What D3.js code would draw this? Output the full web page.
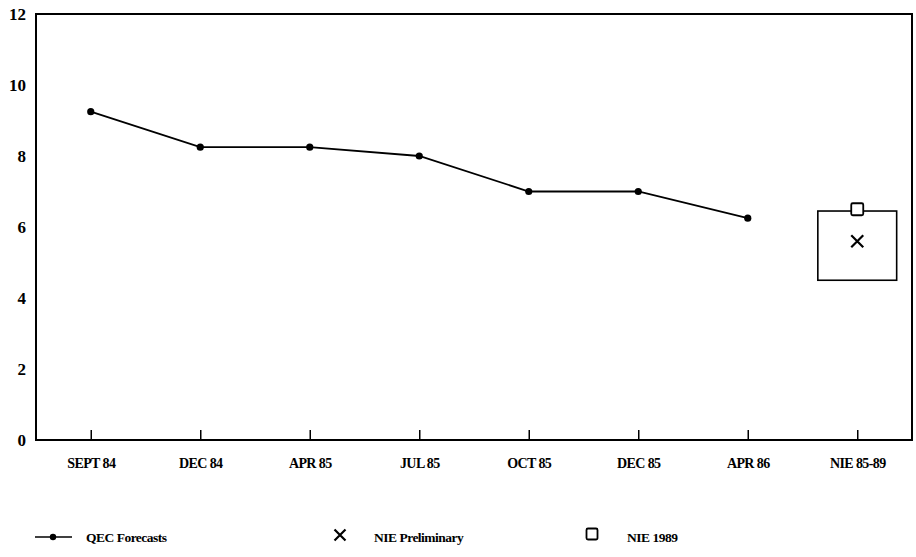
<!DOCTYPE html>
<html>
<head>
<meta charset="utf-8">
<script src="https://cdn.jsdelivr.net/npm/d3@7"></script>
<style>
  body { margin: 0; background: #fff; }
  svg { display: block; }
  text { font-family: "Liberation Serif", "Times New Roman", serif; font-weight: bold; fill: #000; }
</style>
</head>
<body>
<svg class="chart" width="916" height="557"></svg>
<script>
// periods on the x axis
var periods = ["SEPT 84", "DEC 84", "APR 85", "JUL 85", "OCT 85", "DEC 85", "APR 86", "NIE 85-89"];
// QEC forecasts (first seven periods)
var qecPeriods = ["SEPT 84", "DEC 84", "APR 85", "JUL 85", "OCT 85", "DEC 85", "APR 86"];
var qecValues = [9.25, 8.25, 8.25, 8.0, 7.0, 7.0, 6.25];
// NIE estimates
var niePeriod = "NIE 85-89";
var niePreliminary = 5.6;
var nie1989 = 6.5;
var nieRange = [4.5, 6.45];
var yTicks = [0, 2, 4, 6, 8, 10, 12];

var margin = {top: 14, left: 36, right: 4, bottom: 117};
var width = 916 - margin.left - margin.right,
	height = 557 - margin.top - margin.bottom;

var svg = d3.select(".chart");
var g = svg.append("g")
	.attr("transform", "translate(" + margin.left + "," + margin.top + ")");

var x = d3.scalePoint()
	.domain(periods)
	.range([0, width])
	.padding(0.5);

var y = d3.scaleLinear()
	.domain([0, 12])
	.range([height, 0]);

// frame
g.append("rect")
	.attr("width", width)
	.attr("height", height)
	.style("fill", "none")
	.style("stroke", "#000")
	.style("stroke-width", 2);

// y axis labels (no tick marks)
var yAxis = d3.axisLeft(y).tickValues(yTicks).tickSize(0).tickPadding(10);
var yg = g.append("g").call(yAxis);
yg.select(".domain").remove();
yg.selectAll("text").style("font-size", "17px").attr("font-family", null);

// x axis with short upward ticks
var xAxis = d3.axisBottom(x).tickSize(-10).tickPadding(18);
var xg = g.append("g")
	.attr("transform", "translate(0," + height + ")")
	.call(xAxis);
xg.select(".domain").remove();
xg.selectAll(".tick line").style("stroke", "#000").style("stroke-width", 1.5);
xg.selectAll("text")
	.style("font-size", "14px")
	.style("letter-spacing", "-0.6px")
	.attr("font-family", null);

// QEC line
var qec = qecPeriods.map(function(p, i) { return {period: p, value: qecValues[i]}; });
var line = d3.line()
	.x(function(d) { return x(d.period); })
	.y(function(d) { return y(d.value); });

g.append("path")
	.datum(qec)
	.attr("d", line)
	.style("fill", "none")
	.style("stroke", "#000")
	.style("stroke-width", 1.8);

g.selectAll("circle.qec")
	.data(qec)
	.enter().append("circle")
	.attr("class", "qec")
	.attr("cx", function(d) { return x(d.period); })
	.attr("cy", function(d) { return y(d.value); })
	.attr("r", 3.6)
	.style("fill", "#000");

// NIE range box
var boxW = x.step() * 0.72;
g.append("rect")
	.attr("x", x(niePeriod) - boxW / 2)
	.attr("y", y(nieRange[1]))
	.attr("width", boxW)
	.attr("height", y(nieRange[0]) - y(nieRange[1]))
	.style("fill", "none")
	.style("stroke", "#000")
	.style("stroke-width", 1.6);

function cross(sel, cx, cy, s) {
	sel.append("path")
		.attr("d", "M" + (cx - s) + "," + (cy - s) + "L" + (cx + s) + "," + (cy + s) +
			"M" + (cx - s) + "," + (cy + s) + "L" + (cx + s) + "," + (cy - s))
		.style("stroke", "#000")
		.style("stroke-width", 2.2);
}
function square(sel, cx, cy, s) {
	sel.append("rect")
		.attr("x", cx - s).attr("y", cy - s)
		.attr("width", 2 * s).attr("height", 2 * s)
		.attr("rx", 1.5)
		.style("fill", "#fff")
		.style("stroke", "#000")
		.style("stroke-width", 1.8);
}

cross(g, x(niePeriod), y(niePreliminary), 6);
square(g, x(niePeriod), y(nie1989), 6);

// legend
var leg = svg.append("g").attr("transform", "translate(0,537)");
leg.append("line")
	.attr("x1", 35).attr("x2", 72).attr("y1", 0).attr("y2", 0)
	.style("stroke", "#000").style("stroke-width", 1.6);
leg.append("circle").attr("cx", 53).attr("cy", 0).attr("r", 3.2).style("fill", "#000");
leg.append("text").attr("x", 86).attr("y", 5).text("QEC Forecasts");

cross(leg, 340, -2, 5.5);
leg.append("text").attr("x", 374).attr("y", 5).text("NIE Preliminary");

square(leg, 592, -3, 5.5);
leg.append("text").attr("x", 627).attr("y", 5).text("NIE 1989");

leg.selectAll("text").style("font-size", "13.5px").style("letter-spacing", "-0.5px");
</script>
</body>
</html>
